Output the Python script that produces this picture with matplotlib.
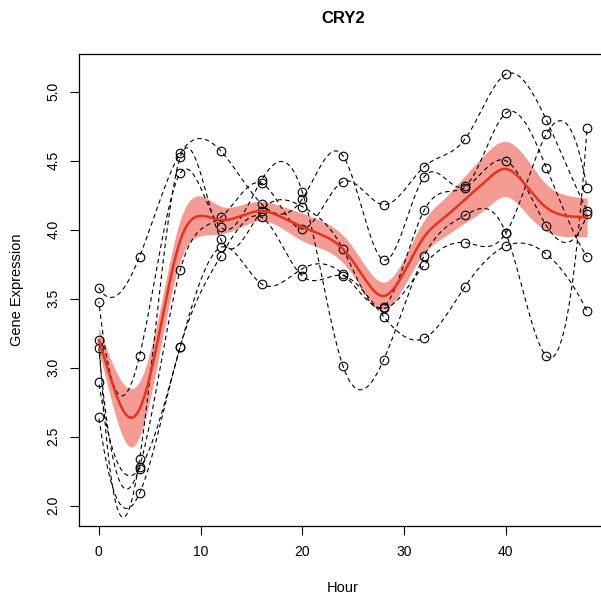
import numpy as np
import matplotlib
matplotlib.use("Agg")
import matplotlib.pyplot as plt

# ---------------- data ----------------
hours = [0, 4, 8, 12, 16, 20, 24, 28, 32, 36, 40, 44, 48]

rep1 = [3.58, 3.804, 4.553, 4.57, 4.186, 4.222, 4.536, 3.78, 4.384, 4.317, 4.843, 4.449, 3.802]
rep2 = [3.14, 2.283, 3.708, 4.09, 4.336, 4.005, 4.348, 4.181, 4.457, 4.657, 5.126, 4.795, 4.138]
rep3 = [3.478, 3.085, 4.409, 4.017, 4.36, 4.275, 3.012, 3.056, 3.812, 4.104, 3.978, 3.085, 4.739]
rep4 = [3.20, 2.336, 4.525, 3.93, 4.136, 4.167, 3.86, 3.442, 4.143, 4.304, 4.5, 4.029, 4.112]
rep5 = [2.896, 2.268, 3.152, 3.872, 3.607, 3.717, 3.679, 3.43, 3.746, 3.906, 3.974, 4.693, 4.304]
rep6 = [2.64, 2.09, 3.152, 3.81, 4.09, 3.664, 3.667, 3.37, 3.213, 3.587, 3.882, 3.824, 3.411]
replicates = [rep1, rep2, rep3, rep4, rep5, rep6]

fit_hours = [0, 2, 3, 4, 6, 8, 10, 12, 14, 16, 18, 20, 22, 24, 26, 28, 30, 32, 34, 36, 38, 40, 42, 44, 46, 48]
fit_mean = [3.20, 2.75, 2.64, 2.70, 3.27, 3.92, 4.10, 4.07, 4.10, 4.135, 4.09, 4.02, 3.96, 3.86,
            3.66, 3.52, 3.69, 3.95, 4.09, 4.22, 4.35, 4.44, 4.32, 4.16, 4.10, 4.09]
fit_half = [0.09, 0.18, 0.21, 0.20, 0.15, 0.15, 0.145, 0.10, 0.08, 0.07, 0.08, 0.10, 0.10, 0.10,
            0.10, 0.10, 0.10, 0.12, 0.14, 0.17, 0.20, 0.20, 0.20, 0.17, 0.15, 0.14]

title = "CRY2"
xlabel = "Hour"
ylabel = "Gene Expression"
xticks = [0, 10, 20, 30, 40]
yticks = [2.0, 2.5, 3.0, 3.5, 4.0, 4.5, 5.0]


# -------- FMM cubic spline (as R's spline()) --------
def fmm_spline(x, y, xs):
    x = np.asarray(x, float); y = np.asarray(y, float)
    n = len(x)
    h = np.diff(x)
    d = np.diff(y) / h
    A = np.zeros((n, n)); b = np.zeros(n)
    for i in range(1, n - 1):
        A[i, i - 1] = h[i - 1]
        A[i, i] = 2 * (h[i - 1] + h[i])
        A[i, i + 1] = h[i]
        b[i] = 6 * (d[i] - d[i - 1])

    def dd3(xx, yy):
        d1 = np.diff(yy) / np.diff(xx)
        d2 = np.diff(d1) / (xx[2:] - xx[:-2])
        return (d2[1] - d2[0]) / (xx[3] - xx[0])
    if n >= 4:
        A[0, 0] = -1 / h[0]; A[0, 1] = 1 / h[0]; b[0] = 6 * dd3(x[:4], y[:4])
        A[-1, -2] = -1 / h[-1]; A[-1, -1] = 1 / h[-1]; b[-1] = 6 * dd3(x[-4:], y[-4:])
    else:
        A[0, 0] = 1; A[-1, -1] = 1
    M = np.linalg.solve(A, b)
    xs = np.asarray(xs, float)
    idx = np.clip(np.searchsorted(x, xs) - 1, 0, n - 2)
    x0 = x[idx]; x1 = x[idx + 1]; hh = x1 - x0
    m0 = M[idx]; m1 = M[idx + 1]; y0 = y[idx]; y1 = y[idx + 1]
    return (m0 * (x1 - xs) ** 3 / (6 * hh) + m1 * (xs - x0) ** 3 / (6 * hh)
            + (y0 / hh - m0 * hh / 6) * (x1 - xs) + (y1 / hh - m1 * hh / 6) * (xs - x0))


# ---------------- figure ----------------
plt.rcParams['font.family'] = ['Liberation Sans', 'DejaVu Sans']
W = 601
fig = plt.figure(figsize=(W / 100, W / 100), dpi=100)
L, R, B, T = 79.3, 606.6, 526.0, 54.0
ax = fig.add_axes([L / W, (W - B) / W, (R - L) / W, (B - T) / W])

xs = np.linspace(0, 48, 400)
fm = np.array(fit_mean); fh = np.array(fit_half)
upper = fmm_spline(fit_hours, fm + fh, xs)
lower = fmm_spline(fit_hours, fm - fh, xs)
ax.fill_between(xs, lower, upper, color="#F49C94", lw=0, zorder=1)

for k, rep in enumerate(replicates):
    ys = fmm_spline(hours, rep, xs)
    ax.plot(xs, ys, color="black", lw=0.8, linestyle=(k * 1.2, (4, 3)), zorder=2)
    ax.plot(hours, rep, linestyle="none", marker="o", markersize=6.2,
            markerfacecolor="none", markeredgecolor="black", markeredgewidth=0.8, zorder=3)

ax.plot(xs, fmm_spline(fit_hours, fm, xs), color="#E8331C", lw=1.8, zorder=4)

ax.set_xlim(-1.92, 49.92)
ax.set_ylim(1.853, 5.273)
ax.set_xticks(xticks)
ax.set_xticklabels([str(v) for v in xticks])
ax.set_yticks(yticks)
ax.set_yticklabels([f"{v:.1f}" for v in yticks], rotation=90, va="center")
ax.tick_params(axis="both", length=6.8, width=0.8, labelsize=10, pad=7, color="black")
for s in ax.spines.values():
    s.set_linewidth(0.9)

ax.set_xlabel(xlabel, fontsize=10.5, labelpad=16)
ax.set_ylabel(ylabel, fontsize=10.5, labelpad=16)
ax.set_title(title, fontsize=12, fontweight="bold", pad=22)

fig.savefig("out.png", dpi=100)
